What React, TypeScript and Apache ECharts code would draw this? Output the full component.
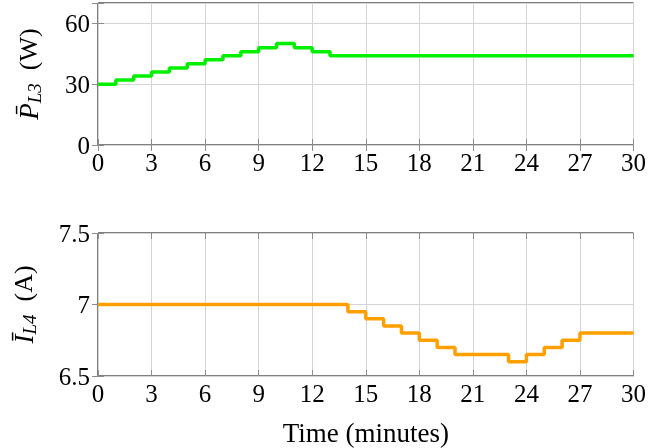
import React, { useEffect, useRef } from "react";
import * as echarts from "echarts";

// Top panel: average power of load 3 (W), step values over [t_i, t_{i+1})
const powerTimes = [0, 1, 2, 3, 4, 5, 6, 7, 8, 9, 10, 11, 12, 13, 30];
const powerValues = [30, 32, 34, 36, 38, 40, 42, 44, 46, 48, 50, 48, 46, 44, 44];

// Bottom panel: average current of load 4 (A)
const currentTimes = [0, 14, 15, 16, 17, 18, 19, 20, 23, 24, 25, 26, 27, 30];
const currentValues = [7, 6.95, 6.9, 6.85, 6.8, 6.75, 6.7, 6.65, 6.6, 6.65, 6.7, 6.75, 6.8, 6.8];

const xTicks = [0, 3, 6, 9, 12, 15, 18, 21, 24, 27, 30];
const powerTicks = [0, 30, 60];
const currentTicks = [6.5, 7, 7.5];

const FONT = "Liberation Serif";

export default function App() {
  const ref = useRef<HTMLDivElement>(null);
  useEffect(() => {
    if (!ref.current) return;
    const chart = echarts.init(ref.current, null, { renderer: "svg" });
    const gridColor = "#d4d4d4";
    const tickColor = "#8c8c8c";
    const labelStyle = { fontFamily: FONT, fontSize: 25, color: "#000" };

    const mkX = (gridIndex: number, bottom: boolean, name?: string) => ({
      type: "value",
      gridIndex,
      position: bottom ? "bottom" : "top",
      min: 0,
      max: 30,
      interval: 3,
      axisLine: { show: false },
      axisTick: { show: true, inside: true, length: 6, lineStyle: { color: tickColor, width: 1 } },
      axisLabel: bottom
        ? { show: true, ...labelStyle, margin: 5, formatter: (v: number) => (xTicks.includes(v) ? String(v) : "") }
        : { show: false },
      splitLine: bottom ? { show: true, lineStyle: { color: gridColor, width: 1 } } : { show: false },
      name: name || "",
      nameLocation: "middle",
      nameGap: 43,
      nameTextStyle: { fontFamily: FONT, fontSize: 27, color: "#000" },
    });

    const mkY = (gridIndex: number, left: boolean, min: number, max: number, ticks: number[], interval: number, name?: any) => ({
      type: "value",
      gridIndex,
      position: left ? "left" : "right",
      min,
      max,
      interval,
      axisLine: { show: false },
      axisTick: { show: true, inside: true, length: 6, lineStyle: { color: tickColor, width: 1 } },
      axisLabel: left
        ? {
            show: true,
            ...labelStyle,
            margin: 8,
            formatter: (v: number) => {
              const hit = ticks.find((t) => Math.abs(t - v) < 1e-9);
              return hit === undefined ? "" : String(hit);
            },
          }
        : { show: false },
      splitLine: left ? { show: true, lineStyle: { color: gridColor, width: 1 } } : { show: false },
      ...(name || {}),
    });

    const nameRich = {
      i: { fontFamily: FONT, fontSize: 27, fontStyle: "italic", color: "#000" },
      s: { fontFamily: FONT, fontSize: 19, fontStyle: "italic", color: "#000", padding: [12, 0, 0, 0] },
      n: { fontFamily: FONT, fontSize: 26, color: "#000" },
    };

    chart.setOption({
      animation: false,
      grid: [
        { left: 98, top: 3, width: 538, height: 142, show: true, borderColor: "#000", borderWidth: 1, backgroundColor: "transparent" },
        { left: 98, top: 233, width: 538, height: 143, show: true, borderColor: "#000", borderWidth: 1, backgroundColor: "transparent" },
      ],
      xAxis: [mkX(0, true), mkX(0, false), mkX(1, true, "Time (minutes)"), mkX(1, false)],
      yAxis: [
        mkY(0, true, 0, 70, powerTicks, 30, {
          name: "{i|P\u0304}{s|L3}{n|  (W)}",
          nameLocation: "middle",
          nameRotate: 90,
          nameGap: 54,
          nameTextStyle: { rich: nameRich },
        }),
        mkY(0, false, 0, 70, powerTicks, 30),
        mkY(1, true, 6.5, 7.5, currentTicks, 0.5, {
          name: "{i|I\u0304}{s|L4}{n|  (A)}",
          nameLocation: "middle",
          nameRotate: 90,
          nameGap: 59,
          nameTextStyle: { rich: nameRich },
        }),
        mkY(1, false, 6.5, 7.5, currentTicks, 0.5),
      ],
      series: [
        {
          type: "line",
          xAxisIndex: 0,
          yAxisIndex: 0,
          step: "end",
          symbol: "none",
          lineStyle: { color: "#00f000", width: 3.5 },
          data: powerTimes.map((t, i) => [t, powerValues[i]]),
        },
        {
          type: "line",
          xAxisIndex: 2,
          yAxisIndex: 2,
          step: "end",
          symbol: "none",
          lineStyle: { color: "#ff9f00", width: 3.5 },
          data: currentTimes.map((t, i) => [t, currentValues[i]]),
        },
      ],
    });
    return () => chart.dispose();
  }, []);
  return <div ref={ref} style={{ position: "fixed", left: 0, top: 0, width: 649, height: 448 }} />;
}
